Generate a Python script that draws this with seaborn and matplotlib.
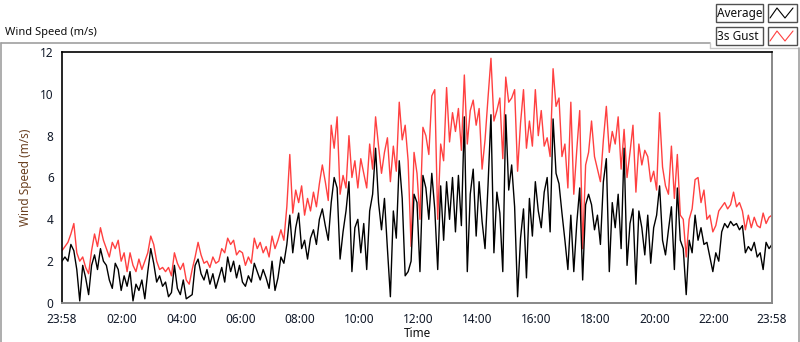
import numpy as np
import pandas as pd
import matplotlib
matplotlib.use("Agg")
import matplotlib.pyplot as plt
from matplotlib.patches import Rectangle
from matplotlib.lines import Line2D
import seaborn as sns

# 6-minute samples, 23:58 -> 23:58 next day
step_min = 6
gust = [
    2.5, 2.7, 2.9, 3.3, 3.8, 2.4, 2.0, 2.2, 1.7, 1.4,
    2.5, 3.3, 2.7, 3.6, 3.0, 2.6, 2.2, 2.9, 2.6, 3.0,
    2.0, 2.4, 1.5, 2.4, 1.8, 1.5, 2.1, 1.6, 2.0, 2.4,
    3.2, 2.8, 2.0, 1.6, 1.7, 1.5, 1.7, 1.3, 2.4, 1.9,
    1.6, 1.9, 1.1, 0.9, 1.6, 2.2, 2.9, 2.3, 1.9, 2.0,
    1.7, 2.2, 1.9, 2.0, 2.6, 2.4, 3.1, 2.8, 3.0, 2.3,
    2.5, 2.4, 1.8, 2.2, 1.9, 3.1, 2.6, 2.9, 2.4, 2.7,
    2.2, 3.2, 2.6, 3.0, 3.5, 3.0, 4.6, 7.1, 4.3, 5.4,
    4.8, 5.6, 4.2, 5.0, 4.4, 5.3, 4.6, 5.7, 6.6, 5.8,
    4.9, 8.5, 7.4, 8.9, 5.2, 6.1, 5.5, 8.0, 6.0, 6.8,
    5.5, 6.9, 6.2, 5.5, 7.6, 6.4, 8.9, 7.5, 6.2, 7.2,
    7.9, 5.8, 7.5, 6.3, 9.6, 7.8, 8.5, 6.8, 2.7, 7.2,
    6.2, 4.0, 8.4, 8.0, 7.1, 9.9, 10.2, 4.0, 7.6, 6.8,
    10.3, 7.7, 9.1, 8.2, 9.3, 7.3, 10.9, 7.6, 9.2, 9.7,
    8.5, 9.3, 6.4, 7.8, 9.8, 11.7, 8.7, 9.2, 9.8, 6.9,
    10.8, 9.6, 9.8, 10.2, 6.3, 8.6, 10.2, 7.4, 8.7, 7.5,
    10.2, 8.0, 9.2, 7.5, 7.9, 7.0, 11.2, 9.4, 9.8, 7.0,
    7.6, 5.5, 9.6, 5.2, 7.3, 9.2, 2.6, 6.6, 7.2, 8.7,
    7.0, 6.4, 5.8, 7.8, 9.4, 7.2, 8.2, 7.6, 8.9, 6.4,
    8.3, 6.0, 7.2, 8.5, 5.3, 7.6, 6.6, 7.3, 7.0, 5.8,
    6.3, 5.4, 9.1, 6.5, 5.6, 5.2, 7.5, 5.0, 7.1, 4.2,
    4.0, 2.2, 4.0, 4.5, 5.9, 6.0, 4.8, 5.4, 4.0, 4.2,
    3.4, 3.7, 4.4, 4.6, 4.8, 4.5, 4.7, 5.3, 4.6, 4.8,
    4.4, 3.5, 4.2, 3.6, 4.1, 3.7, 3.6, 4.3, 3.8, 4.1,
    4.2,
]
average = [
    2.0, 2.2, 2.0, 2.8, 2.5, 1.6, 0.1, 1.8, 1.2, 0.4,
    1.8, 2.3, 1.6, 2.6, 2.0, 1.8, 1.1, 0.7, 1.9, 1.6,
    0.6, 1.3, 0.8, 1.5, 0.1, 0.9, 0.6, 1.1, 0.2, 1.5,
    2.6, 1.9, 1.0, 1.3, 0.8, 1.0, 0.3, 0.5, 1.8, 0.7,
    0.4, 1.1, 0.2, 0.3, 0.4, 1.8, 2.1, 1.4, 1.1, 1.6,
    0.9, 1.4, 0.7, 1.2, 1.7, 1.0, 2.2, 1.5, 2.0, 1.2,
    1.8, 1.0, 0.8, 1.3, 1.0, 1.9, 1.5, 1.1, 1.6, 1.2,
    0.7, 2.0, 0.6, 1.2, 2.2, 1.9, 2.8, 4.2, 2.4, 3.6,
    4.3, 2.6, 3.0, 2.1, 3.1, 3.5, 2.8, 4.0, 4.5, 3.7,
    3.0, 4.8, 6.0, 5.5, 2.1, 3.4, 4.4, 5.8, 1.5, 3.6,
    4.0, 2.4, 3.8, 1.6, 4.4, 5.2, 7.4, 4.8, 3.5, 5.0,
    2.6, 0.3, 4.4, 3.1, 6.8, 5.0, 1.3, 1.5, 2.0, 5.2,
    4.8, 1.5, 6.1, 5.5, 4.0, 6.2, 4.5, 1.6, 5.6, 3.0,
    5.8, 4.0, 6.0, 3.4, 6.1, 3.7, 8.9, 1.5, 5.2, 6.4,
    3.2, 5.8, 3.9, 2.6, 5.6, 9.0, 2.4, 5.3, 4.3, 1.5,
    9.0, 5.4, 6.6, 4.6, 0.3, 3.1, 4.5, 1.2, 5.0, 3.2,
    5.8, 4.4, 3.6, 5.3, 6.0, 3.4, 8.8, 6.2, 5.7, 4.3,
    3.0, 1.6, 4.2, 1.5, 3.8, 5.5, 1.1, 4.7, 5.2, 4.7,
    3.5, 4.2, 2.8, 5.8, 6.9, 1.5, 4.8, 3.6, 5.2, 2.6,
    7.4, 1.8, 3.8, 4.5, 0.9, 4.4, 3.6, 2.3, 4.2, 1.9,
    3.6, 4.2, 5.6, 3.0, 2.3, 3.5, 4.6, 1.6, 5.5, 3.0,
    2.6, 0.4, 3.0, 2.4, 4.2, 3.0, 3.6, 2.8, 2.9, 2.2,
    1.5, 2.4, 2.0, 3.4, 3.8, 3.6, 3.9, 3.7, 3.8, 3.5,
    3.7, 2.4, 2.7, 2.5, 2.9, 2.2, 2.4, 1.6, 2.9, 2.6,
    2.8,
]
tick_minutes = [0, 122, 242, 362, 482, 602, 722, 842, 962, 1082, 1202, 1322, 1440]
tick_labels = ["23:58", "02:00", "04:00", "06:00", "08:00", "10:00", "12:00",
               "14:00", "16:00", "18:00", "20:00", "22:00", "23:58"]

df = pd.DataFrame({"minute": np.arange(len(gust)) * step_min,
                   "gust": gust, "average": average})

sns.set_style("white")
plt.rcParams["font.family"] = ["Noto Sans", "DejaVu Sans"]
plt.rcParams["font.size"] = 8

W, H = 800, 342
fig = plt.figure(figsize=(8, 3.42), dpi=100)

def fx(px):
    return px / W

def fy(py):
    return 1 - py / H

# outer panel frame
panel = "#a0a0a0"
fig.add_artist(Line2D([fx(0.5), fx(710)], [fy(42.5), fy(42.5)], color=panel, lw=1.2))
fig.add_artist(Line2D([fx(0.8), fx(0.8)], [fy(42.5), fy(342)], color=panel, lw=1.2))
fig.add_artist(Line2D([fx(710), fx(710)], [fy(42.5), fy(47.5)], color="#c8c8c8", lw=1))
fig.add_artist(Line2D([fx(710), fx(798)], [fy(47.5), fy(47.5)], color="#c8c8c8", lw=1))
fig.add_artist(Line2D([fx(798.5), fx(798.5)], [fy(47.5), fy(342)], color=panel, lw=1.2))
fig.text(fx(5), fy(32), "Wind Speed (m/s)", va="center", ha="left", color="#101010")

ax = fig.add_axes([fx(62), fy(303), fx(710), 251 / H])
sns.lineplot(data=df, x="minute", y="gust", color="#ff4040", lw=1.0, ax=ax)
sns.lineplot(data=df, x="minute", y="average", color="black", lw=1.0, ax=ax)
ax.set_xlim(0, 1440)
ax.set_ylim(0, 12)

ax.set_yticks([0, 2, 4, 6, 8, 10, 12])
ax.set_xticks(tick_minutes)
ax.set_xticklabels(tick_labels)
minor = [m for m in range(2, 1440, 12) if min(abs(m - t) for t in tick_minutes) > 5]
ax.set_xticks(minor, minor=True)
ax.tick_params(axis="both", which="major", direction="out", length=4, width=1,
               color="black", labelcolor="#101828", labelsize=8.5, pad=2)
ax.tick_params(axis="x", which="major", width=2, length=5)
ax.tick_params(axis="x", which="minor", direction="out", length=3, width=1, color="black")
ax.set_xlabel("Time", fontsize=8.5, color="#101010", labelpad=1)
ax.set_ylabel("Wind Speed (m/s)", fontsize=8.5, color="#6a4020", labelpad=6)

for side in ["left", "top"]:
    ax.spines[side].set_color("black")
    ax.spines[side].set_linewidth(1.2)
for side in ["right", "bottom"]:
    ax.spines[side].set_color("#888888")
    ax.spines[side].set_linewidth(1.4)

# legend: label boxes and line swatches
for i, (name, col) in enumerate([("Average", "black"), ("3s Gust", "#ff4040")]):
    top = 4 + i * 23
    fig.add_artist(Rectangle((fx(715.5), fy(top + 18)), fx(47), 18 / H,
                             facecolor="white", edgecolor="#505050", lw=1))
    fig.text(fx(717), fy(top + 9), name, va="center", ha="left",
             color="#101010", fontsize=8.5)
    fig.add_artist(Rectangle((fx(767.5), fy(top + 18)), fx(29), 18 / H,
                             facecolor="white", edgecolor="#505050", lw=1))
    sx = [770, 777, 785, 793]
    sy = [top + 14, top + 4, top + 14, top + 4]
    fig.add_artist(Line2D([fx(v) for v in sx], [fy(v) for v in sy], color=col, lw=0.8))

fig.savefig("out.png", dpi=100)
